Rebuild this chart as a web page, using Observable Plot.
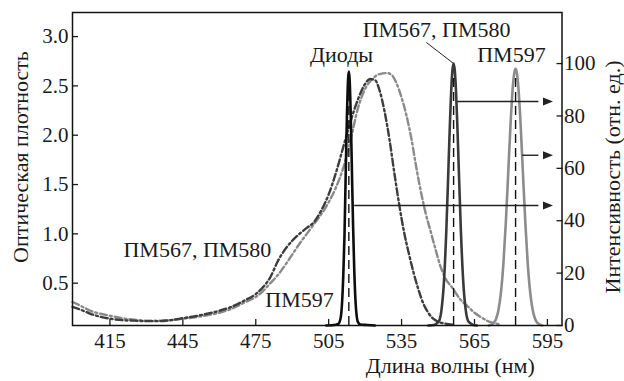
<!DOCTYPE html>
<html><head><meta charset="utf-8">
<script src="https://cdn.jsdelivr.net/npm/d3@7"></script>
<script src="https://cdn.jsdelivr.net/npm/@observablehq/plot@0.6"></script>
<style>body{margin:0;background:#fff}</style>
</head><body><div id="chart"></div>
<script>
// Absorption (optical density), left axis: [wavelength nm, OD]
const absorbPM567 = [[399.6,0.26],[403,0.23],[407,0.19],[411,0.16],[415,0.14],[420,0.125],[425,0.12],[430,0.115],[435,0.115],[440,0.125],[445,0.145],[450,0.165],[455,0.19],[460,0.22],[465,0.26],[470,0.32],[475,0.39],[478,0.46],[481,0.56],[484,0.72],[487,0.84],[490,0.93],[493,1.0],[496,1.06],[499,1.12],[502,1.24],[505,1.40],[508,1.62],[511,1.88],[514,2.14],[517,2.36],[520,2.52],[522,2.57],[524,2.56],[526,2.45],[528,2.24],[530,1.96],[532,1.62],[534,1.30],[536,1.02],[538,0.80],[540,0.60],[542,0.43],[544,0.29],[546,0.20],[548,0.14],[550,0.11],[553,0.09],[556,0.08]];
const absorbPM597 = [[399.6,0.31],[403,0.27],[407,0.22],[411,0.19],[415,0.17],[420,0.145],[425,0.13],[430,0.12],[435,0.12],[440,0.125],[445,0.14],[450,0.155],[455,0.175],[460,0.2],[465,0.24],[470,0.3],[475,0.36],[478,0.42],[481,0.5],[484,0.58],[487,0.68],[490,0.79],[493,0.9],[496,1.0],[499,1.1],[502,1.2],[505,1.32],[508,1.47],[511,1.67],[514,1.95],[517,2.27],[520,2.47],[523,2.57],[526,2.62],[529,2.63],[531,2.61],[533,2.52],[535,2.38],[537,2.2],[539,1.97],[541,1.68],[543,1.42],[545,1.2],[547,1.02],[549,0.84],[551,0.67],[553,0.55],[556,0.45],[559,0.34],[562,0.27],[565,0.2],[568,0.15],[571,0.11],[574,0.09],[576,0.08]];

// Emission intensity (rel. units), right axis: [wavelength nm, intensity]
const emitDiodes = [[504,0],[508,0.3],[509,0.6],[510,3.3],[511,18.8],[511.5,34],[512,57.4],[512.5,79.5],[513,94.3],[513.3,97],[513.6,94.3],[514,83.3],[514.5,62],[515,39.6],[515.5,22],[516,10.1],[517,1.4],[518,0.4],[521,0.2],[524,0]];
const emitPM567 = [[546,0],[548.4,0.2],[549.4,0.8],[550.4,1.7],[551.4,5.9],[552.4,16.3],[553.4,36.1],[554.4,63.6],[554.9,77.5],[555.4,89.3],[555.9,97.2],[556.4,100],[556.9,97.2],[557.4,89.3],[557.9,77.5],[558.4,63.6],[559.4,36.1],[560.4,16.3],[561.4,5.9],[562.4,1.7],[563.4,0.8],[564.4,0.2],[566,0]];
const emitPM597 = [[570.9,0],[571.9,0.3],[572.9,1.0],[573.9,2.6],[574.9,6.1],[575.9,12.7],[576.9,23.7],[577.9,39.5],[578.9,58.8],[579.9,78.1],[580.9,92.6],[581.4,96.6],[581.9,98],[582.4,96.6],[582.9,92.6],[583.9,78.1],[584.9,58.8],[585.9,39.5],[586.9,23.7],[587.9,12.7],[588.9,6.1],[589.9,2.6],[590.9,1.0],[591.9,0.3],[592.9,0]];

// Peak markers (dashed) and arrows, right-axis units
const peakLines = [{nm:513.3, top:95},{nm:556.4, top:96},{nm:581.9, top:95}];
const arrows = [{from:515.5, to:597.3, level:45.8},{from:557.9, to:597.3, level:85.5},{from:584.6, to:597.3, level:65}];

// Labels (data coordinates: nm, OD)
const labels = [
  {text:"ПМ567, ПМ580", nm:549.4, od:3.071},
  {text:"Диоды", nm:510.3, od:2.818},
  {text:"ПМ597", nm:580.2, od:2.818},
  {text:"ПМ567, ПМ580", nm:451.0, od:0.837},
  {text:"ПМ597", nm:493.0, od:0.335}
];
const leader = [{nm1:545.2, od1:2.94, nm2:556.4, od2:2.727}];

const xTicks = [415,445,475,505,535,565,595];
const yTicksLeft = [0.5,1.0,1.5,2.0,2.5,3.0];
const yTicksRight = [0,20,40,60,80,100];
const xTitle = "Длина волны (нм)";
const yTitleLeft = "Оптическая плотность";
const yTitleRight = "Интенсивность (отн. ед.)";

const FONT = "Liberation Serif";
const Y0 = 0.071, Y1 = 3.244, RMAX = 119.5;
const toLeft = r => Y0 + r * (Y1 - Y0) / RMAX;
const fromLeft = v => Math.round((v - Y0) * RMAX / (Y1 - Y0));

const arrowHead = {draw(ctx) { ctx.moveTo(0,0); ctx.lineTo(-10,-4); ctx.lineTo(-10,4); ctx.closePath(); }};

const chart = Plot.plot({
  width: 624, height: 381,
  marginLeft: 72, marginRight: 62.5, marginTop: 12, marginBottom: 56,
  style: {fontFamily: "Liberation Serif, serif", fontSize: "21px", color: "#1a1a1a", background: "white"},
  x: {domain: [399.6, 601]},
  y: {domain: [Y0, Y1]},
  marks: [
    Plot.axisX({ticks: xTicks, tickSize: -6, tickPadding: 14, strokeWidth: 1.3, label: null, fontSize: 21, fontFamily: FONT}),
    Plot.axisY({anchor: "left", ticks: yTicksLeft, tickSize: -6, tickPadding: 10, strokeWidth: 1.3, tickFormat: d3.format(".1f"), label: null, fontSize: 21, fontFamily: FONT}),
    Plot.axisY({anchor: "right", ticks: yTicksRight.map(toLeft), tickSize: -6, tickPadding: 8, strokeWidth: 1.3, tickFormat: fromLeft, label: null, fontSize: 21, fontFamily: FONT}),
    Plot.line(absorbPM597, {x: d => d[0], y: d => d[1], stroke: "#8a8a8a", strokeWidth: 2.4, strokeDasharray: "7,3,2,3", curve: "monotone-x"}),
    Plot.line(absorbPM567, {x: d => d[0], y: d => d[1], stroke: "#3d3d3d", strokeWidth: 2.4, strokeDasharray: "7,3,2,3", curve: "monotone-x"}),
    Plot.line(emitPM597, {x: d => d[0], y: d => toLeft(d[1]), stroke: "#8c8c8c", strokeWidth: 2.6, curve: "monotone-x"}),
    Plot.line(emitPM567, {x: d => d[0], y: d => toLeft(d[1]), stroke: "#3a3a3a", strokeWidth: 2.6, curve: "monotone-x"}),
    Plot.line(emitDiodes, {x: d => d[0], y: d => toLeft(d[1]), stroke: "#0d0d0d", strokeWidth: 2.6, curve: "monotone-x"}),
    Plot.ruleX(peakLines, {x: "nm", y1: () => toLeft(0), y2: d => toLeft(d.top), stroke: "#111", strokeWidth: 1.4, strokeDasharray: "9,5"}),
    Plot.link(arrows, {x1: "from", x2: d => d.to - 6, y1: d => toLeft(d.level), y2: d => toLeft(d.level), stroke: "#222", strokeWidth: 1.4}),
    Plot.dot(arrows, {x: "to", y: d => toLeft(d.level), symbol: arrowHead, fill: "#222", stroke: "none"}),
    Plot.link(leader, {x1: "nm1", y1: "od1", x2: "nm2", y2: "od2", stroke: "#222", strokeWidth: 1}),
    Plot.text(labels, {x: "nm", y: "od", text: "text", fontSize: 22, fontFamily: FONT, lineAnchor: "middle", fill: "#1a1a1a"}),
    Plot.text([xTitle], {text: d => d, frameAnchor: "bottom", dx: 133, dy: 40, fontSize: 22, fontFamily: FONT, textAnchor: "middle", lineAnchor: "middle"}),
    Plot.text([yTitleLeft], {text: d => d, frameAnchor: "left", dx: -52, dy: -12, rotate: -90, fontSize: 22, fontFamily: FONT, textAnchor: "middle", lineAnchor: "middle"}),
    Plot.text([yTitleRight], {text: d => d, frameAnchor: "right", dx: 51, dy: 8, rotate: -90, fontSize: 22, fontFamily: FONT, textAnchor: "middle", lineAnchor: "middle"}),
    Plot.frame({stroke: "#111", strokeWidth: 1.5})
  ]
});
document.getElementById("chart").append(chart);
</script>
</body></html>
